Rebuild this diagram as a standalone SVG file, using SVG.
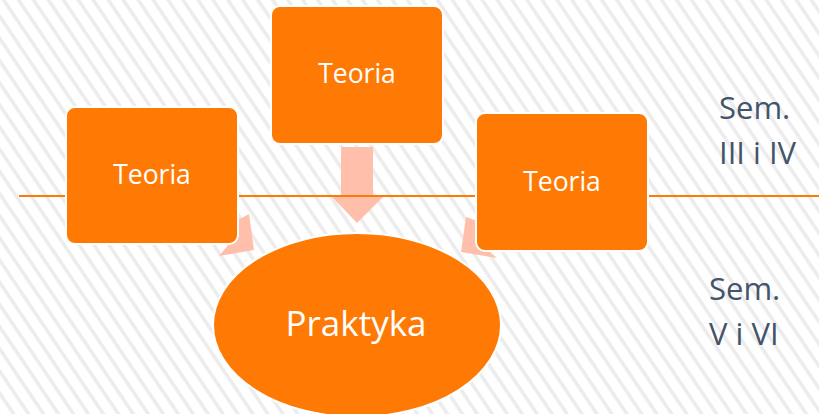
<svg xmlns="http://www.w3.org/2000/svg" width="819" height="414" viewBox="0 0 819 414">
  <defs>
    <pattern id="stripes" width="12.4" height="40" patternUnits="userSpaceOnUse" patternTransform="rotate(-34)">
      <rect width="12.4" height="40" fill="#ffffff"/>
      <line x1="3" y1="0" x2="3" y2="40" stroke="#ececec" stroke-width="3.5"/>
    </pattern>
    <style>
      .box { fill: #ff7a05; stroke: #ffffff; stroke-width: 2; }
      .arrow { fill: #ffbfab; }
      .lbl { font-family: "Open Sans", "Noto Sans", sans-serif; fill: #ffffff; text-anchor: middle; }
      .sem { font-family: "Open Sans", "Noto Sans", sans-serif; fill: #44546a; font-size: 31px; }
    </style>
  </defs>
  <rect width="819" height="414" fill="url(#stripes)"/>

  <g id="connectors">
    <polygon class="arrow" points="341,147 373,147 373,197 383,197 357,223 332,197 341,197"/>
    <polygon class="arrow" points="234,222 249,214 254,250 219,256 234,238"/>
    <polygon class="arrow" points="466,217 480,222 482,245 497,258 461,252"/>
  </g>

  <line id="divider" x1="19" y1="196" x2="819" y2="196" stroke="#ff7a05" stroke-width="1.8"/>

  <g id="teoria-left">
    <rect class="box" x="66" y="107" width="172" height="137" rx="9"/>
    <text class="lbl" x="152" y="184" font-size="26.5">Teoria</text>
  </g>
  <g id="teoria-top">
    <rect class="box" x="271" y="6" width="172" height="138" rx="9"/>
    <text class="lbl" x="357" y="83" font-size="26.5">Teoria</text>
  </g>
  <g id="teoria-right">
    <rect class="box" x="476" y="113" width="172" height="138" rx="9"/>
    <text class="lbl" x="562" y="191" font-size="26.5">Teoria</text>
  </g>
  <g id="praktyka">
    <ellipse class="box" cx="357" cy="325" rx="144" ry="92"/>
    <text class="lbl" x="356" y="336" font-size="35">Praktyka</text>
  </g>

  <g id="sem-upper">
    <text class="sem" x="719" y="119">Sem.</text>
    <text class="sem" x="719" y="164">III i IV</text>
  </g>
  <g id="sem-lower">
    <text class="sem" x="709" y="300">Sem.</text>
    <text class="sem" x="709" y="345">V i VI</text>
  </g>
</svg>
